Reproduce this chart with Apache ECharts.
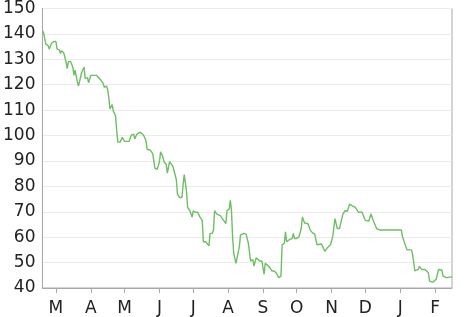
<!DOCTYPE html>
<html>
<head>
<meta charset="utf-8">
<script src="https://cdn.jsdelivr.net/npm/echarts@6/dist/echarts.min.js"></script>
<style>
  html, body { margin: 0; padding: 0; background: #fff; }
  #chart { width: 466px; height: 317px; }
</style>
</head>
<body>
<div id="chart"></div>
<script>
const dates = [
  '2008-02-18','2008-02-19','2008-02-21','2008-02-23','2008-02-24','2008-02-26','2008-02-28','2008-03-01','2008-03-02','2008-03-04',
  '2008-03-05','2008-03-06','2008-03-08','2008-03-10','2008-03-11','2008-03-12','2008-03-14','2008-03-16','2008-03-17','2008-03-18',
  '2008-03-20','2008-03-21','2008-03-22','2008-03-24','2008-03-26','2008-03-27','2008-03-29','2008-03-30','2008-04-01','2008-04-06',
  '2008-04-07','2008-04-10','2008-04-12','2008-04-13','2008-04-15','2008-04-16','2008-04-17','2008-04-18','2008-04-19','2008-04-20',
  '2008-04-21','2008-04-23','2008-04-24','2008-04-25','2008-04-27','2008-04-29','2008-05-01','2008-05-05','2008-05-07','2008-05-09',
  '2008-05-10','2008-05-12','2008-05-15','2008-05-18','2008-05-20','2008-05-21','2008-05-24','2008-05-26','2008-05-28','2008-05-30',
  '2008-06-01','2008-06-02','2008-06-04','2008-06-05','2008-06-07','2008-06-08','2008-06-10','2008-06-13','2008-06-14','2008-06-16',
  '2008-06-17','2008-06-19','2008-06-21','2008-06-22','2008-06-23','2008-06-25','2008-06-26','2008-06-28','2008-06-30','2008-07-01',
  '2008-07-03','2008-07-05','2008-07-07','2008-07-09','2008-07-10','2008-07-12','2008-07-13','2008-07-15','2008-07-16','2008-07-18',
  '2008-07-19','2008-07-20','2008-07-22','2008-07-23','2008-07-25','2008-07-28','2008-07-30','2008-07-31','2008-08-02','2008-08-03',
  '2008-08-04','2008-08-05','2008-08-06','2008-08-08','2008-08-09','2008-08-11','2008-08-12','2008-08-15','2008-08-17','2008-08-19',
  '2008-08-21','2008-08-23','2008-08-24','2008-08-26','2008-08-29','2008-08-31','2008-09-02','2008-09-03','2008-09-06','2008-09-09',
  '2008-09-11','2008-09-13','2008-09-15','2008-09-17','2008-09-18','2008-09-20','2008-09-21','2008-09-22','2008-09-24','2008-09-27',
  '2008-09-28','2008-09-29','2008-10-01','2008-10-03','2008-10-05','2008-10-06','2008-10-08','2008-10-11','2008-10-13','2008-10-15',
  '2008-10-17','2008-10-19','2008-10-20','2008-10-23','2008-10-26','2008-10-28','2008-10-31','2008-11-02','2008-11-04','2008-11-06',
  '2008-11-08','2008-11-11','2008-11-13','2008-11-15','2008-11-17','2008-11-19','2008-11-22','2008-11-25','2008-11-28','2008-12-01',
  '2008-12-04','2008-12-06','2008-12-08','2008-12-11','2008-12-14','2009-01-02','2009-01-03','2009-01-07','2009-01-11','2009-01-12',
  '2009-01-14','2009-01-17','2009-01-18','2009-01-20','2009-01-23','2009-01-26','2009-01-27','2009-01-30','2009-02-02','2009-02-04',
  '2009-02-07','2009-02-08','2009-02-11','2009-02-16'
];
const prices = [
  141.3,140.4,136.0,135.5,134.0,136.2,137.0,137.0,134.0,133.7,
  132.3,133.4,132.5,128.9,126.3,129.1,129.1,126.9,123.7,125.7,
  121.2,119.5,119.5,125.0,126.9,122.5,122.8,120.8,123.7,123.7,
  123.1,121.8,120.5,119.0,119.5,118.0,114.8,110.5,110.9,112.2,
  109.6,107.7,101.9,97.4,97.4,99.3,97.7,97.7,100.2,100.6,
  98.7,100.6,101.3,100.0,98.0,94.6,94.2,92.9,87.1,86.7,
  89.7,93.6,91.6,89.7,88.7,85.2,89.7,87.8,87.1,82.6,
  76.9,75.6,75.6,80.7,84.6,78.2,71.7,70.4,67.9,70.4,
  69.8,69.8,67.9,66.6,58.2,58.2,58.8,56.6,61.5,61.5,
  62.8,70.4,69.1,68.5,68.5,66.6,65.3,70.4,71.1,74.5,
  70.4,60.1,53.7,49.7,49.7,56.3,60.8,61.5,61.2,57.6,
  50.6,51.2,48.6,51.9,50.6,50.6,45.4,49.7,48.6,46.7,
  46.7,45.8,44.1,44.7,57.0,57.6,62.1,58.2,58.9,59.5,
  61.5,59.5,59.5,60.1,63.4,67.9,65.6,65.3,62.8,61.7,
  61.2,57.0,57.6,57.3,54.4,55.7,57.0,60.2,67.3,63.4,
  63.4,69.1,70.4,70.2,73.0,72.4,71.7,69.8,69.8,66.6,
  66.3,69.1,66.6,63.4,62.8,62.8,60.2,55.0,55.0,53.1,
  46.7,47.3,48.5,47.3,47.3,46.0,42.7,42.3,43.5,47.3,
  47.1,44.7,44.1,44.4
];
const monthLetters = ['J','F','M','A','M','J','J','A','S','O','N','D'];
const xMin = '2008-02-18';
const xMax = '2009-02-16';
const yMin = 40, yMax = 150, yStep = 10;

const FONT = 'DejaVu Sans, Verdana, sans-serif';
const chart = echarts.init(document.getElementById('chart'));
chart.setOption({
  animation: false,
  backgroundColor: '#fff',
  grid: {
    left: 41, right: 14, top: 7, bottom: 24,
    show: true, borderColor: '#a8a8a8', borderWidth: 1, backgroundColor: 'transparent'
  },
  xAxis: {
    type: 'time',
    min: xMin, max: xMax,
    splitNumber: 12,
    minInterval: 28 * 86400000,
    axisLine: { show: true, lineStyle: { color: '#a8a8a8', width: 1 } },
    axisTick: { show: true, length: 5, lineStyle: { color: '#a8a8a8' } },
    splitLine: { show: false },
    axisLabel: {
      color: '#222', fontSize: 17, fontFamily: FONT,
      margin: 12, showMinLabel: false, showMaxLabel: false,
      formatter: function (v) { return monthLetters[new Date(v).getMonth()]; }
    }
  },
  yAxis: {
    type: 'value', min: yMin, max: yMax, interval: yStep,
    axisLine: { show: true, lineStyle: { color: '#a8a8a8', width: 1 } },
    axisTick: { show: false },
    splitLine: { show: true, lineStyle: { color: '#ebebeb', width: 1 } },
    axisLabel: { color: '#222', fontSize: 17, fontFamily: FONT, margin: 7 }
  },
  series: [{
    type: 'line',
    data: dates.map((d, i) => [d, prices[i]]),
    showSymbol: false,
    symbol: 'none',
    lineStyle: { color: '#6dbf62', width: 1.4 },
    itemStyle: { color: '#6dbf62' }
  }]
});
</script>
</body>
</html>
